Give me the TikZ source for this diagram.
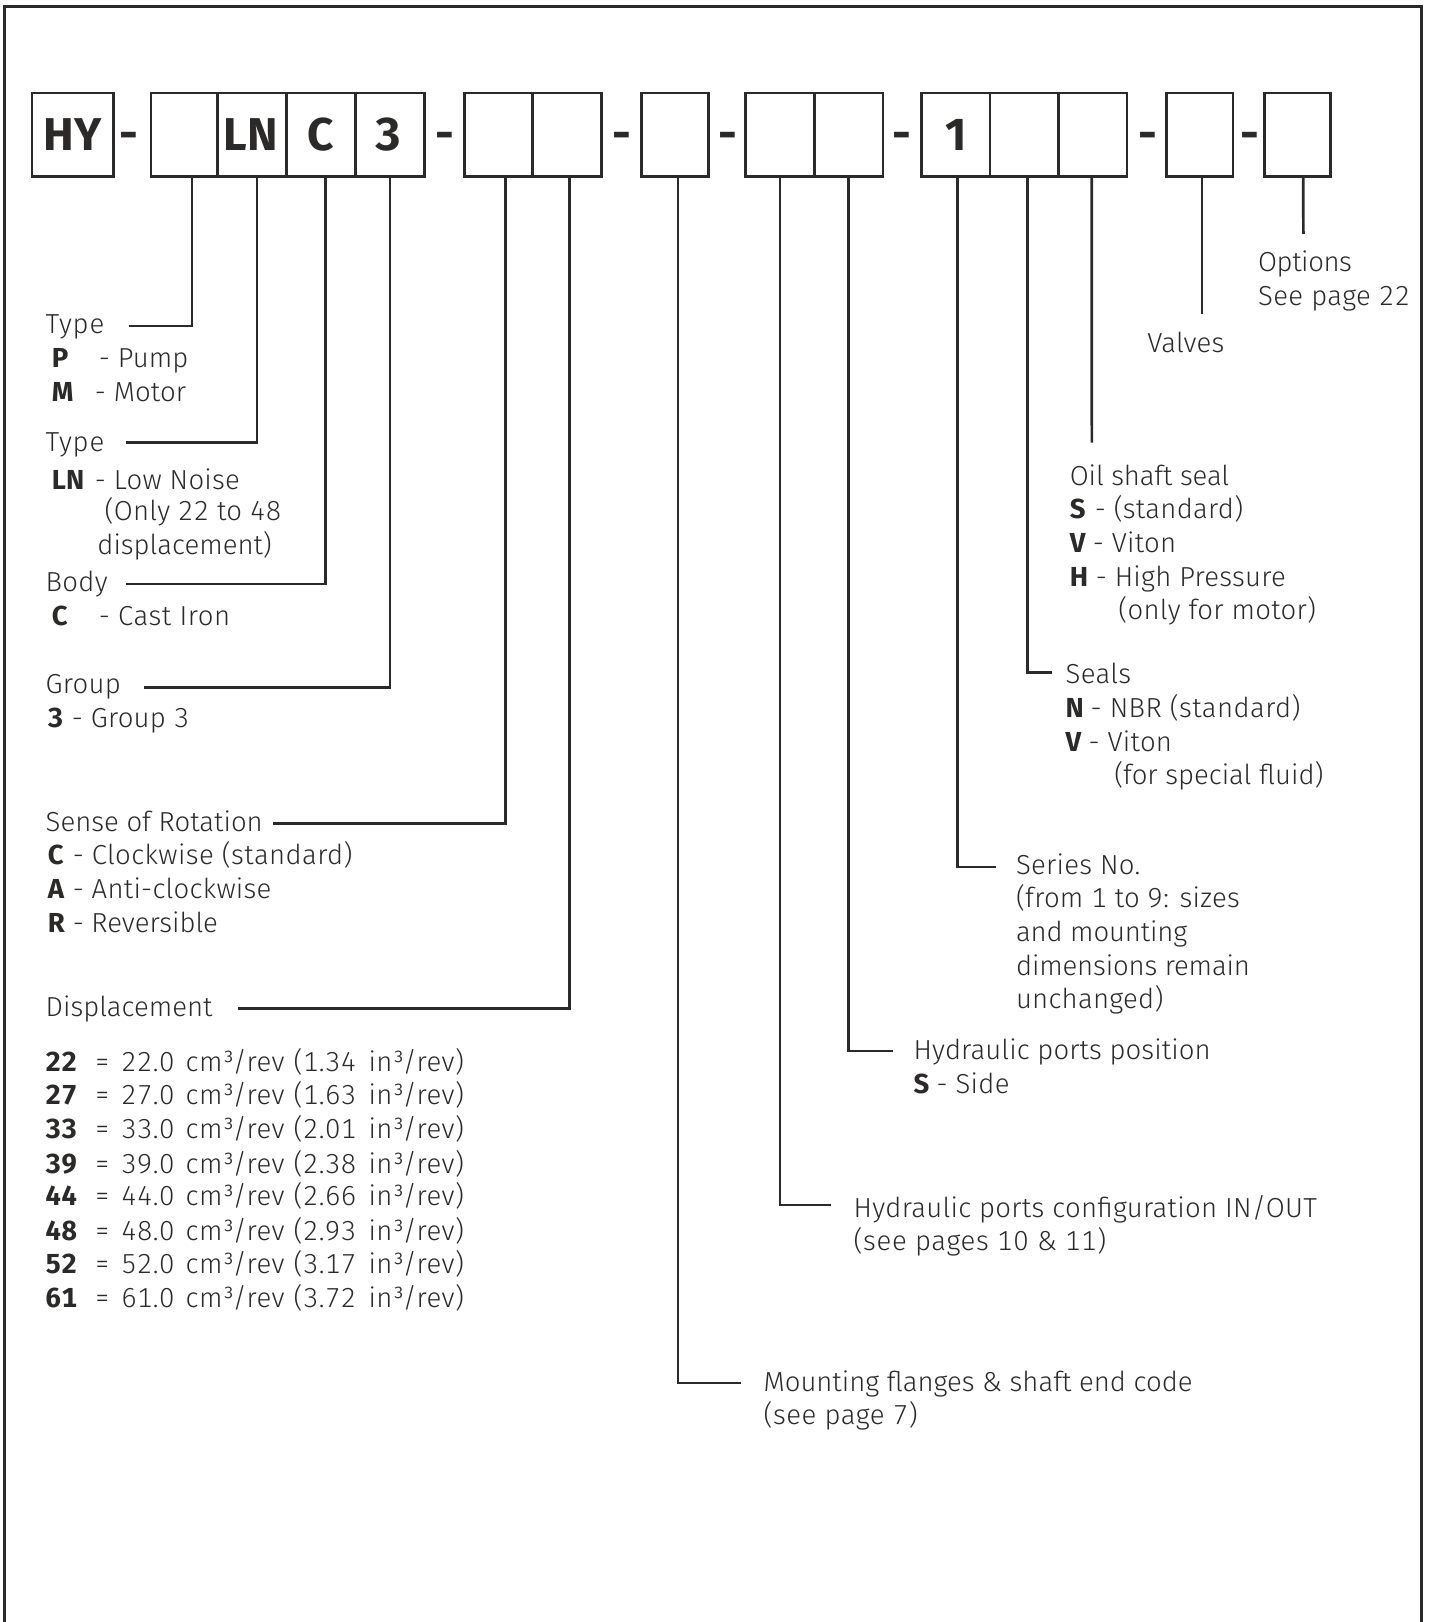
\documentclass[tikz,border=0pt]{standalone}
\usepackage{fontspec}
\setmainfont{Fira Sans}[UprightFont=* Light,BoldFont=* Bold,Numbers=Monospaced]
\definecolor{ink}{HTML}{2B2A29}
\newcommand{\cd}[2]{\makebox[#1pt][l]{\textbf{#2}}}
\newcommand{\ls}[1]{\addfontfeature{LetterSpace=#1}}
\newcommand{\rw}[3]{\ls{1.7}\cd{49}{#1}=\hspace{3pt} #2\hspace{3pt} cm³/rev\hspace{1pt} (#3\hspace{4pt} in³/rev)}
\tikzset{
  code/.style={draw=ink,line width=2.8pt,minimum height=81*1.0344pt,inner sep=0pt,outer sep=0pt,
    font=\fontsize{46}{46}\bfseries\selectfont,text=ink,text height=31.7pt,text depth=0pt,anchor=center},
  sep/.style={font=\fontsize{46}{46}\bfseries\selectfont,text=ink,inner sep=0pt,anchor=base},
  tx/.style={font=\fontsize{27.5}{34}\selectfont,text=ink,inner sep=0pt,anchor=base west},
  conn/.style={draw=ink,line width=2.7pt,line cap=butt,line join=miter},
}
\begin{document}
\begin{tikzpicture}[x=1.0344pt,y=-1.0344pt]
\useasboundingbox (0,0) rectangle (1383.4,1568);
\draw[draw=ink,line width=3pt] (3.9,1568) -- (3.9,6) -- (1374.5,6) -- (1374.5,1568);
% code boxes
\node[code,minimum width=79*1.0344pt] (bHY) at (70.5,130.4) {\ls{1.5}HY};
\node[code,minimum width=64*1.0344pt] (bP) at (178,130.4) {};
\node[code,minimum width=67*1.0344pt] (bLN) at (243.5,130.4) {\hspace*{-2pt}LN};
\node[code,minimum width=67*1.0344pt] (bC) at (310.5,130.4) {C};
\node[code,minimum width=66*1.0344pt] (bG) at (377,130.4) {\hspace*{-4pt}3};
\node[code,minimum width=66*1.0344pt] (bR) at (482,130.4) {};
\node[code,minimum width=66.5*1.0344pt] (bD) at (548.3,130.4) {};
\node[code,minimum width=64.5*1.0344pt] (bM) at (652.3,130.4) {};
\node[code,minimum width=66*1.0344pt] (bI) at (754,130.4) {};
\node[code,minimum width=66.5*1.0344pt] (bO) at (820.3,130.4) {};
\node[code,minimum width=66*1.0344pt] (bS) at (924,130.4) {\addfontfeature{Numbers=Proportional}1};
\node[code,minimum width=66*1.0344pt] (bE) at (990,130.4) {};
\node[code,minimum width=66.5*1.0344pt] (bF) at (1056.3,130.4) {};
\node[code,minimum width=64*1.0344pt] (bV) at (1160,130.4) {};
\node[code,minimum width=64.5*1.0344pt] (bT) at (1254.3,130.4) {};
% separators
\node[sep] (d1) at (124.5,144.5) {-};
\node[sep] (d2) at (430,144.5) {-};
\node[sep] (d3) at (601,144.5) {-};
\node[sep] (d4) at (703.5,144.5) {-};
\node[sep] (d5) at (872,144.5) {-};
\node[sep] (d6) at (1109.5,144.5) {-};
\node[sep] (d7) at (1208,144.5) {-};
% texts, left
\node[tx] (t1) at (44,322) {\ls{3}Type};
\node[tx] (t1a) at (50,355.6) {\cd{47}{P}\ls{0.5}- Pump};
\node[tx] (t1b) at (50,388.6) {\cd{43}{M}\ls{0.5}- Motor};
\node[tx] (t2) at (44,436) {\ls{3}Type};
\node[tx] (t2a) at (50,473) {\cd{43}{LN}\ls{1}- Low Noise};
\node[tx] (t2b) at (101,503) {\ls{1}(Only 22 to 48};
\node[tx] (t2c) at (94,535.6) {displacement)};
\node[tx] (t3) at (44,572) {\ls{1}Body};
\node[tx] (t3a) at (50,604.6) {\cd{47}{C}\ls{2}- Cast Iron};
\node[tx] (t4) at (44,670) {\ls{1}Group};
\node[tx] (t4a) at (46,703) {\cd{24}{3}\ls{1}- Group 3};
\node[tx] (t5) at (44,804) {Sense of Rotation};
\node[tx] (t5a) at (46,836) {\cd{25}{C}\ls{1.5}- Clockwise (standard)};
\node[tx] (t5b) at (46,869) {\cd{25}{A}\ls{1}- Anti-clockwise};
\node[tx] (t5c) at (46,901) {\cd{25}{R}- Reversible};
\node[tx] (t6) at (44,983) {Displacement};
\node[tx] (t6a) at (44,1036) {\rw{22}{22.0}{1.34}};
\node[tx] (t6b) at (44,1068) {\rw{27}{27.0}{1.63}};
\node[tx] (t6c) at (44,1101) {\rw{33}{33.0}{2.01}};
\node[tx] (t6d) at (44,1134) {\rw{39}{39.0}{2.38}};
\node[tx] (t6e) at (44,1165.5) {\rw{44}{44.0}{2.66}};
\node[tx] (t6f) at (44,1199) {\rw{48}{48.0}{2.93}};
\node[tx] (t6g) at (44,1231) {\rw{52}{52.0}{3.17}};
\node[tx] (t6h) at (44,1264) {\rw{61}{61.0}{3.72}};
% texts, right
\node[tx] (o1) at (1216,262) {\ls{-1.5}Options};
\node[tx] (o2) at (1216,295) {\ls{1.5}See page 22};
\node[tx] (v1) at (1109,341) {\ls{0.5}Valves};
\node[tx] (f1) at (1034,469) {\ls{-0.5}Oil shaft seal};
\node[tx] (f2) at (1034,501) {\cd{25}{S}\ls{1}- (standard)};
\node[tx] (f3) at (1034,534) {\cd{23}{V}\ls{1}- Viton};
\node[tx] (f4) at (1034,567) {\cd{26}{H}\ls{1}- High Pressure};
\node[tx] (f5) at (1081,599) {\ls{1}(only for motor)};
\node[tx] (e1) at (1030,661) {\ls{1}Seals};
\node[tx] (e2) at (1030,694) {\cd{25}{N}\ls{1.5}- NBR (standard)};
\node[tx] (e3) at (1030,726) {\cd{23}{V}\ls{1}- Viton};
\node[tx] (e4) at (1077,758) {(for special fluid)};
\node[tx] (s1) at (982,845) {\ls{1}Series No.};
\node[tx] (s2) at (982,877) {\ls{1}(from 1 to 9: sizes};
\node[tx] (s3) at (982,910) {\ls{-0.5}and mounting};
\node[tx] (s4) at (982,943) {\ls{-0.5}dimensions remain};
\node[tx] (s5) at (982,975) {\ls{1}unchanged)};
\node[tx] (h1) at (883,1024) {\ls{0.3}Hydraulic ports position};
\node[tx] (h2) at (883,1057) {\cd{23}{S}\ls{1}- Side};
\node[tx] (i1) at (825,1177) {\ls{1}Hydraulic ports configuration IN/OUT};
\node[tx] (i2) at (825,1209) {\ls{2.4}(see pages 10 \& 11)};
\node[tx] (m1) at (738,1345) {Mounting flanges \& shaft end code};
\node[tx] (m2) at (738,1377) {\ls{2}(see page 7)};
% free ends
\coordinate (cP) at (125,315);
\coordinate (cLN) at (122,427.5);
\coordinate (cC) at (122,564.5);
\coordinate (cG) at (139,664.5);
\coordinate (cR) at (264,796);
\coordinate (cD) at (230,975);
\coordinate (cM) at (716,1337);
\coordinate (cI) at (803,1165);
\coordinate (cO) at (863,1016);
\coordinate (cS) at (963,838);
\coordinate (cE) at (1017,650);
\coordinate (cF) at (1055.5,428);
\coordinate (cV) at (1162,304);
\coordinate (cT) at (1260,226);
% connectors
\draw[conn] ([shift={(7.5,0)}]bP.south) |- (cP);
\draw[conn] ([shift={(5,0)}]bLN.south) |- (cLN);
\draw[conn] ([shift={(4,0)}]bC.south) |- (cC);
\draw[conn] (bG.south) |- (cG);
\draw[conn] ([shift={(7,0)}]bR.south) |- (cR);
\draw[conn] ([shift={(2,0)}]bD.south) |- (cD);
\draw[conn] ([shift={(3,0)}]bM.south) |- (cM);
\draw[conn] (bI.south) |- (cI);
\draw[conn] (bO.south) |- (cO);
\draw[conn] ([shift={(1.5,0)}]bS.south) |- (cS);
\draw[conn] ([shift={(3,0)}]bE.south) |- (cE);
\draw[conn] ([shift={(-1,0)}]bF.south) -- (cF);
\draw[conn] ([shift={(2,0)}]bV.south) -- (cV);
\draw[conn] ([shift={(5.5,0)}]bT.south) -- (cT);
\end{tikzpicture}
\end{document}
